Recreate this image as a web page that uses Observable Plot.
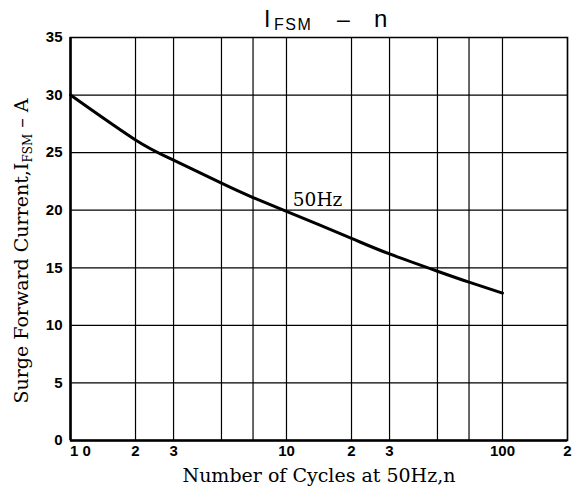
<!DOCTYPE html>
<html>
<head>
<meta charset="utf-8">
<script src="https://cdn.jsdelivr.net/npm/d3@7"></script>
<script src="https://cdn.jsdelivr.net/npm/@observablehq/plot@0.6"></script>
<style>
  html, body { margin: 0; padding: 0; background: #fff; }
  #chart svg { display: block; }
</style>
</head>
<body>
<div id="chart"></div>
<script>
// Data
const cycles  = [1, 2, 3, 5, 7, 10, 20, 30, 50, 70, 100];
const current = [30, 26.1, 24.35, 22.35, 21.1, 19.9, 17.55, 16.2, 14.7, 13.75, 12.8];
const xTicks = [1, 2, 3, 5, 7, 10, 20, 30, 50, 70, 100, 200];
const xTickLabels = ["1 0", "2", "3", "5", "7", "10", "2", "3", "5", "7", "100", "2"];
const yTicks = [0, 5, 10, 15, 20, 25, 30, 35];
const seriesLabel = "50Hz";

const curve = cycles.map((n, i) => ({n, a: current[i]}));
const xLabelOf = new Map(xTicks.map((t, i) => [t, xTickLabels[i]]));
const tickFont = {fontFamily: "Liberation Sans", fontWeight: "bold", fontSize: 15};

const plot = Plot.plot({
  width: 573,
  height: 491,
  marginLeft: 70,
  marginRight: 6,
  marginTop: 37,
  marginBottom: 51,
  style: {background: "#fff", color: "#000"},
  x: {type: "log", domain: [1, 200]},
  y: {domain: [0, 35]},
  marks: [
    Plot.gridX(xTicks, {stroke: "#000", strokeOpacity: 1, strokeWidth: 1.2}),
    Plot.gridY(yTicks, {stroke: "#000", strokeOpacity: 1, strokeWidth: 1.2}),
    Plot.frame({stroke: "#000", strokeWidth: 1.5}),
    Plot.ruleX([1], {stroke: "#000", strokeWidth: 2.5}),
    Plot.ruleY([0], {stroke: "#000", strokeWidth: 2.5}),
    Plot.line(curve, {x: "n", y: "a", stroke: "#000", strokeWidth: 3, curve: "natural"}),
    Plot.text([seriesLabel], {x: 10.7, y: 20.9, text: d => d, textAnchor: "start",
      fontFamily: "DejaVu Serif", fontSize: 18.5, fill: "#000"}),
    Plot.axisX(xTicks.slice(1), {tickSize: 0, tickPadding: 5, tickFormat: d => xLabelOf.get(d),
      ...tickFont, label: null}),
    Plot.axisX(xTicks.slice(0, 1), {tickSize: 0, tickPadding: 5, dx: 10, tickFormat: d => xLabelOf.get(d),
      ...tickFont, label: null}),
    Plot.axisY(yTicks, {tickSize: 0, tickPadding: 8, ...tickFont, label: null})
  ]
});

document.getElementById("chart").appendChild(plot);

const svg = d3.select(plot);
const sans = "Liberation Sans, Arial, sans-serif";
const serif = "DejaVu Serif, serif";

// Title  I_FSM – n
const tg = svg.append("g").attr("text-anchor", "start").attr("fill", "#000").attr("font-family", sans);
tg.append("text").attr("x", 264).attr("y", 27).attr("font-size", 23).text("I");
tg.append("text").attr("x", 274).attr("y", 30).attr("font-size", 16).attr("letter-spacing", 1.5).text("FSM");
tg.append("text").attr("x", 337).attr("y", 27).attr("font-size", 23).text("\u2013");
tg.append("text").attr("x", 374).attr("y", 27).attr("font-size", 24).text("n");

// Y label
const yl = svg.append("text")
  .attr("transform", "translate(28,251) rotate(-90)")
  .attr("text-anchor", "middle")
  .attr("font-family", serif)
  .attr("font-size", 19).attr("fill", "#000");
yl.append("tspan").text("Surge Forward Current,I");
yl.append("tspan").attr("font-size", 12).attr("dy", 4).text("FSM");
yl.append("tspan").attr("dy", -4).attr("xml:space", "preserve").text(" \u2013 A");

// X label
svg.append("text")
  .attr("x", 319).attr("y", 482)
  .attr("text-anchor", "middle")
  .attr("font-family", serif)
  .attr("font-size", 19).attr("fill", "#000")
  .text("Number of Cycles at 50Hz,n");
</script>
</body>
</html>
